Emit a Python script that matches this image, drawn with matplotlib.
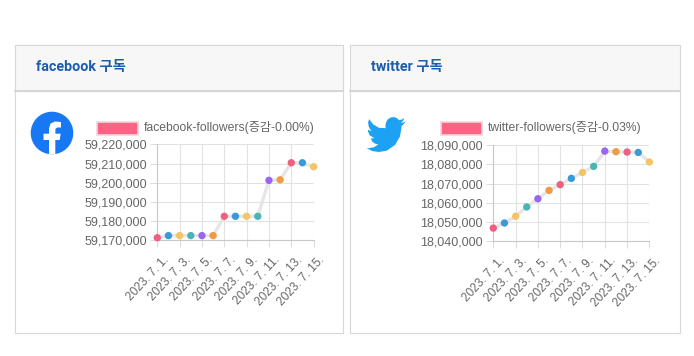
import matplotlib
matplotlib.use('Agg')
import matplotlib.pyplot as plt
from matplotlib.patches import Rectangle, Circle, Polygon
from matplotlib.ticker import FuncFormatter

plt.rcParams['font.family'] = ['Liberation Sans', 'Noto Sans CJK KR']

W, H = 694, 356

dates = ['2023. 7. %d.' % d for d in range(1, 16)]
fb_values = [59171200, 59172300, 59172300, 59172300, 59172300, 59172300, 59182400, 59182400,
             59182400, 59182400, 59201200, 59201500, 59210400, 59210400, 59208300]
tw_values = [18046600, 18049300, 18052800, 18057700, 18062000, 18066400, 18069400, 18072700,
             18075800, 18079000, 18087000, 18086700, 18086500, 18086300, 18081300]
fb_ticks = [59170000, 59180000, 59190000, 59200000, 59210000, 59220000]
tw_ticks = [18040000, 18050000, 18060000, 18070000, 18080000, 18090000]
point_colors = ['#ee5f80', '#3a9ad9', '#f5c565', '#4bb5b5', '#9a66ee', '#f19a45']

fig = plt.figure(figsize=(W / 100, H / 100), dpi=100, facecolor='white')
bg = fig.add_axes([0, 0, 1, 1])
bg.set_xlim(0, W)
bg.set_ylim(H, 0)
bg.axis('off')


def card(x0, x1, title):
    bg.add_patch(Rectangle((x0, 44.5), x1 - x0, 288.5, fc='white', ec='#d8d8d8', lw=0.8))
    bg.add_patch(Rectangle((x0, 44.5), x1 - x0, 46.5, fc='#f7f7f7', ec='#d8d8d8', lw=0.8))
    bg.plot([x0, x1], [91, 91], color='#d4d4d4', lw=1.3)
    bg.text(x0 + 20.5, 67, title, color='#1b5cab', fontsize=10.3, fontweight='bold',
            family=['Roboto', 'Noto Sans CJK KR'], va='center', ha='left')


def legend(box_x, text_x, label):
    bg.add_patch(Rectangle((box_x, 121.5), 41, 13, fc='#ff6384', ec='#f3d5dc', lw=1.2))
    bg.text(text_x, 127.5, label, color='#666666', fontsize=8.75, va='center', ha='left')


def chart(x0, x1, top, bottom, values, ticks):
    ax = fig.add_axes([x0 / W, 1 - bottom / H, (x1 - x0) / W, (bottom - top) / H])
    xs = list(range(len(values)))
    ax.plot(xs, values, color='#e6e6e6', lw=2.4, zorder=2, clip_on=False)
    colors = [point_colors[i % len(point_colors)] for i in xs]
    ax.scatter(xs, values, c=colors, s=28, linewidths=0, zorder=3, clip_on=False)
    ax.set_xlim(0, 14)
    ax.set_ylim(ticks[0], ticks[-1])
    ax.set_yticks(ticks)
    ax.yaxis.set_major_formatter(FuncFormatter(lambda v, p: format(int(v), ',')))
    ax.set_xticks(xs[::2])
    ax.set_xticklabels([])
    # tick labels sit right of their tick, so they are placed by hand
    for x, d in zip(xs[::2], dates[::2]):
        ax.annotate(d, xy=(x, 0), xycoords=('data', 'axes fraction'), xytext=(3.6, -10),
                    textcoords='offset points', rotation=47, ha='right', va='top',
                    rotation_mode='anchor', fontsize=8.6, color='#666666')
    ax.grid(True, color='#e2e2e2', lw=0.8, zorder=1)
    ax.set_axisbelow(True)
    ax.tick_params(axis='y', length=5, width=0.8, color='#dddddd', labelsize=9.0,
                   labelcolor='#666666', pad=2.5)
    ax.tick_params(axis='x', length=5, width=0.8, color='#dddddd')
    for s in ['top', 'right']:
        ax.spines[s].set_visible(False)
    for s in ['left', 'bottom']:
        ax.spines[s].set_color('#c8c8c8')
        ax.spines[s].set_linewidth(0.8)
    ax.patch.set_alpha(0)


card(15.5, 343.5, 'facebook 구독')
card(350.5, 680, 'twitter 구독')
legend(97, 143.5, 'facebook-followers(증감-0.00%)')
legend(441.5, 488, 'twitter-followers(증감-0.03%)')
chart(157.3, 313.6, 144.4, 240, fb_values, fb_ticks)
chart(493.3, 649.4, 145.4, 240.7, tw_values, tw_ticks)

# facebook icon
bg.add_patch(Circle((52, 133), 21.3, fc='#1877f2', ec='none'))
f_shape = [(49, 154.2), (49, 140), (43.5, 140), (43.5, 133.7), (49, 133.7), (49, 128.5),
           (50.5, 123.5), (55, 121.5), (61, 122), (61, 127.5), (57.5, 127.5), (55.5, 128.7),
           (55.3, 133.7), (60.7, 133.7), (59.7, 140), (55.3, 140), (55.3, 154.2)]
bg.add_patch(Polygon(f_shape, closed=True, fc='white', ec='none'))

# twitter icon, outline in a 24 unit box
bird = [(23.95, 4.57), (22.6, 5.1), (21.13, 5.35), (22.5, 4.2), (23.29, 2.62), (21.8, 3.35),
        (20.16, 3.81), (18.5, 2.45), (16.57, 2.0), (14.6, 2.35), (13.0, 3.4), (12.0, 5.0),
        (11.65, 6.8), (11.78, 8.29), (7.69, 8.1), (4.07, 6.13), (1.64, 3.16), (1.0, 5.0),
        (1.25, 7.0), (1.95, 8.6), (3.16, 9.73), (1.9, 9.6), (0.93, 9.12), (0.95, 10.2),
        (1.9, 12.3), (4.88, 14.0), (2.67, 14.09), (3.6, 15.9), (5.2, 17.0), (7.27, 17.5),
        (4.5, 19.1), (1.17, 19.6), (0.0, 19.54), (3.5, 21.2), (7.56, 21.75), (12.5, 21.0),
        (17.5, 17.8), (20.6, 13.0), (21.55, 7.77), (21.54, 7.14), (22.9, 6.0), (24.0, 4.59)]
ox, oy, sx, sy = 366.5, 113.5, 39 / 24, 1.77
bg.add_patch(Polygon([(ox + px * sx, oy + py * sy) for px, py in bird], closed=True,
                     fc='#1da1f2', ec='none'))

fig.savefig('out.png', dpi=100, facecolor='white')
